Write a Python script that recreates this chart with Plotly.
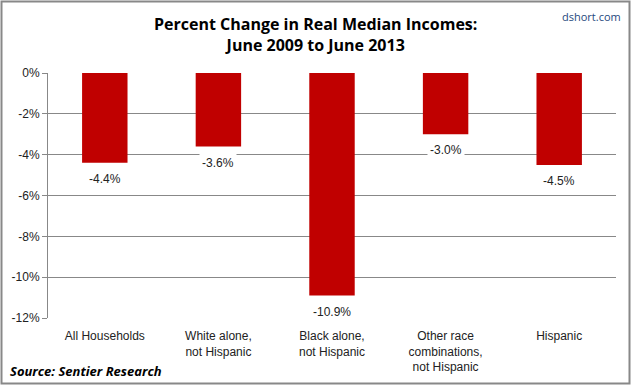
import plotly.graph_objects as go

categories = ["All Households", "White alone,<br>not Hispanic", "Black alone,<br>not Hispanic",
              "Other race<br>combinations,<br>not Hispanic", "Hispanic"]
values = [-4.4, -3.6, -10.9, -3.0, -4.5]
tick_vals = [0, -2, -4, -6, -8, -10, -12]
tick_text = ["0%", "-2%", "-4%", "-6%", "-8%", "-10%", "-12%"]

W, H = 631, 385
ml, mr, mt, mb = 48, 15, 73, 67

fig = go.Figure()
fig.add_trace(go.Bar(x=categories, y=values, marker_color="#C00000", width=0.4,
                     marker_line_width=0, hoverinfo="skip"))

for c, v in zip(categories, values):
    fig.add_annotation(x=c, y=v, text=f"{v:.1f}%", showarrow=False, yanchor="top", yshift=-6,
                       bgcolor="white", borderpad=2,
                       font=dict(family="Liberation Sans", size=12, color="#222222"))

pw = W - ml - mr
ph = H - mt - mb
fig.add_shape(type="rect", xref="paper", yref="paper",
              x0=-(ml - 1.5) / pw, x1=(pw + mr - 1.5) / pw,
              y0=-(mb - 1.5) / ph, y1=(ph + mt - 1.5) / ph,
              line=dict(color="#888888", width=2), layer="above")

fig.add_annotation(xref="paper", yref="paper", x=(W / 2 - ml) / pw, y=(ph + mt - 34) / ph,
                   text="<b>Percent Change in Real Median Incomes:<br>June 2009 to June 2013</b>",
                   showarrow=False, xanchor="center", yanchor="middle",
                   font=dict(family="Open Sans", size=16, color="black"))
fig.add_annotation(xref="paper", yref="paper", x=(W - 8 - ml) / pw, y=(ph + mt - 17) / ph,
                   text="dshort.com", showarrow=False, xanchor="right", yanchor="middle",
                   font=dict(family="Open Sans", size=11, color="#1F497D"))
fig.add_annotation(xref="paper", yref="paper", x=(8 - ml) / pw, y=-(371 - mt - ph) / ph,
                   text="<b><i>Source: Sentier Research</i></b>", showarrow=False,
                   xanchor="left", yanchor="middle",
                   font=dict(family="Open Sans", size=13, color="black"))

fig.update_layout(
    width=W, height=H, margin=dict(l=ml, r=mr, t=mt, b=mb),
    paper_bgcolor="white", plot_bgcolor="white", showlegend=False,
    xaxis=dict(showgrid=False, tickfont=dict(family="Liberation Sans", size=12, color="#222222"),
               ticks="", showline=False, fixedrange=True, ticklabelstandoff=9),
    yaxis=dict(range=[-12, 0], tickvals=tick_vals, ticktext=tick_text,
               showgrid=True, gridcolor="#888888", gridwidth=1,
               showline=True, linecolor="#888888", linewidth=1,
               ticks="outside", ticklen=5, tickcolor="#888888",
               tickfont=dict(family="Liberation Sans", size=12, color="#222222"),
               zeroline=False, fixedrange=True),
)

fig.write_html("out.html", config={"displayModeBar": False},
               post_script="document.body.style.margin='0';document.body.style.padding='0';")
